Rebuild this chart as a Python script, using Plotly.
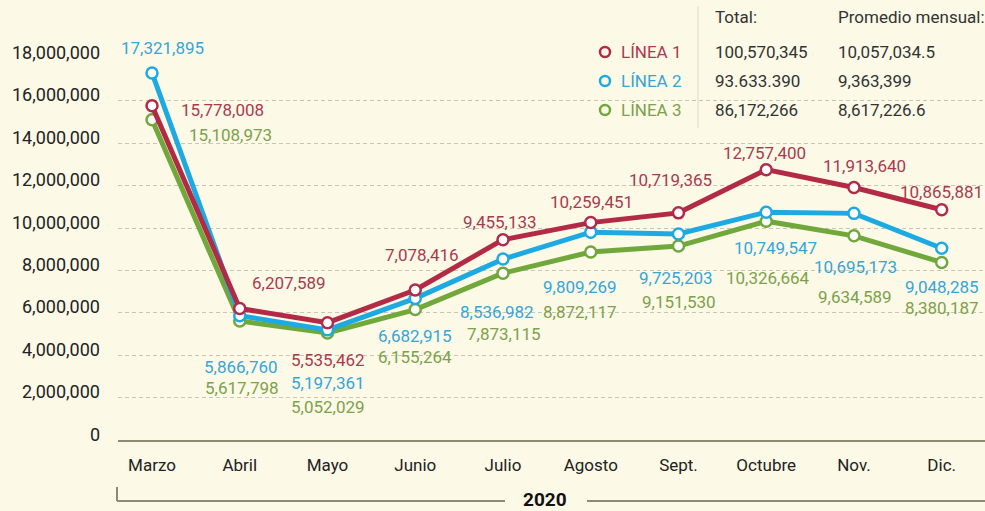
import plotly.graph_objects as go

# ---------------- data ----------------
months = ["Marzo", "Abril", "Mayo", "Junio", "Julio", "Agosto", "Sept.", "Octubre", "Nov.", "Dic."]
linea1 = [15778008, 6207589, 5535462, 7078416, 9455133, 10259451, 10719365, 12757400, 11913640, 10865881]
linea2 = [17321895, 5866760, 5197361, 6682915, 8536982, 9809269, 9725203, 10749547, 10695173, 9048285]
linea3 = [15108973, 5617798, 5052029, 6155264, 7873115, 8872117, 9151530, 10326664, 9634589, 8380187]
series_names = ["LÍNEA 1", "LÍNEA 2", "LÍNEA 3"]
totals = ["100,570,345", "93.633.390", "86,172,266"]
monthly_avg = ["10,057,034.5", "9,363,399", "8,617,226.6"]
y_ticks = [0, 2000000, 4000000, 6000000, 8000000, 10000000, 12000000, 14000000, 16000000, 18000000]
grid_ticks = [2000000, 4000000, 6000000, 8000000, 10000000, 12000000, 14000000, 16000000]
header_total = "Total:"
header_avg = "Promedio mensual:"
year_label = "2020"
source_label = "Fuente: Datos abiertos de la CDMX"

# ---------------- styles ----------------
W, H = 985, 511
ML, MR, MT, MB = 118, 0, 0, 71
PW, PH = W - ML - MR, H - MT - MB
BG = "#FCF9E7"
FONT = "Roboto"
line_cols = ["#B32A46", "#1DAAE2", "#71A83C"]
text_cols = ["#A93B4F", "#35A6D8", "#7CA14C"]
AXIS_COL = "#8C8A72"
GRID_COL = "#C9C6B8"

# label offsets (xshift, yshift) per series, per month
shifts = [
    [(70, -4), (49, 25), (1, -37), (7, 35), (-3, 18), (1, 21), (-8, 33), (-2, 17), (11, 22), (0, 18)],
    [(10, 25), (1, -51), (1, -53), (0, -38), (-6, -53), (-11, -55), (-2, -44), (9, -36), (2, -54), (0, -39)],
    [(78, -15), (2, -67), (1, -74), (0, -47), (1, -61), (-11, -60), (1, -56), (2, -57), (1, -61), (0, -46)],
]


def px(x):
    return (x - ML) / PW


def py(y):
    return (MT + PH - y) / PH


series = [linea1, linea2, linea3]
fig = go.Figure()

# draw green, blue, red (red on top)
for idx in [2, 1, 0]:
    fig.add_trace(go.Scatter(
        x=months, y=series[idx], mode="lines+markers", name=series_names[idx],
        line=dict(color=line_cols[idx], width=5),
        marker=dict(size=11, color="white", line=dict(color=line_cols[idx], width=2.5)),
        cliponaxis=False, showlegend=False, hoverinfo="skip",
    ))

annotations = []
# data labels
for idx in range(3):
    for i, m in enumerate(months):
        xs, ys = shifts[idx][i]
        annotations.append(dict(
            x=m, y=series[idx][i], xref="x", yref="y", text=f"{series[idx][i]:,}",
            showarrow=False, xshift=xs, yshift=ys, xanchor="center", yanchor="middle",
            font=dict(family=FONT, size=17, color=text_cols[idx]),
        ))

# y tick labels
for v in y_ticks:
    annotations.append(dict(
        x=0, y=v, xref="paper", yref="y", text=f"{v:,}", showarrow=False,
        xanchor="right", yanchor="middle", xshift=-16, yshift=6,
        font=dict(family=FONT, size=18, color="#222222"),
    ))


def paper_text(x, y, text, color="#333333", size=17, xanchor="left", yanchor="middle"):
    annotations.append(dict(x=px(x), y=py(y), xref="paper", yref="paper", text=text,
                            showarrow=False, xanchor=xanchor, yanchor=yanchor,
                            font=dict(family=FONT, size=size, color=color)))


shapes = []
# legend background (hides gridlines behind the table)
shapes.append(dict(type="rect", xref="paper", yref="paper", x0=px(585), x1=1, y0=py(126), y1=1,
                   fillcolor=BG, line=dict(width=0), layer="between"))

# legend table
paper_text(713, 17, header_total)
paper_text(836, 17, header_avg)
row_y = [52, 81, 110]
for k in range(3):
    paper_text(619, row_y[k], series_names[k], color=text_cols[k])
    paper_text(713, row_y[k], totals[k])
    paper_text(836, row_y[k], monthly_avg[k])
    shapes.append(dict(type="circle", xref="paper", yref="paper", xsizemode="pixel", ysizemode="pixel",
                       xanchor=px(605), yanchor=py(row_y[k]), x0=-5, x1=5, y0=-5, y1=5,
                       line=dict(color=line_cols[k], width=2.5), fillcolor=BG))

# separator in legend
shapes.append(dict(type="line", xref="paper", yref="paper", x0=px(698), x1=px(698), y0=py(6), y1=py(128),
                   line=dict(color="#DCD9C8", width=1)))

# bottom bracket with year
shapes.append(dict(type="line", xref="paper", yref="paper", x0=px(117), x1=px(117), y0=py(487), y1=py(501),
                   line=dict(color=AXIS_COL, width=2)))
shapes.append(dict(type="line", xref="paper", yref="paper", x0=px(117), x1=px(505), y0=py(501), y1=py(501),
                   line=dict(color=AXIS_COL, width=2)))
shapes.append(dict(type="line", xref="paper", yref="paper", x0=px(587), x1=px(985), y0=py(501), y1=py(501),
                   line=dict(color=AXIS_COL, width=2)))
paper_text(545, 500, f"<b>{year_label}</b>", color="#111111", size=19, xanchor="center")
paper_text(693, 506, source_label, size=15, yanchor="top")

step = (941.7 - 152) / 9
fig.update_layout(
    width=W, height=H, margin=dict(l=ML, r=MR, t=MT, b=MB, pad=0),
    paper_bgcolor=BG, plot_bgcolor=BG,
    xaxis=dict(type="category", range=[(ML - 152) / step, (W - MR - 152) / step],
               showgrid=False, zeroline=False, showline=True, linecolor=AXIS_COL, linewidth=2,
               ticks="", ticklabelstandoff=9,
               tickfont=dict(family=FONT, size=17, color="#222222")),
    yaxis=dict(range=[0, PH / 21.19 * 1e6], tickvals=grid_ticks, showticklabels=False,
               showgrid=True, gridcolor=GRID_COL, gridwidth=1, griddash="4px,3px",
               zeroline=False, showline=False, ticks=""),
    annotations=annotations, shapes=shapes,
    showlegend=False,
)

fig.write_html("out.html", config={"displayModeBar": False},
               post_script="document.body.style.margin='0px';document.body.style.overflow='hidden';")
